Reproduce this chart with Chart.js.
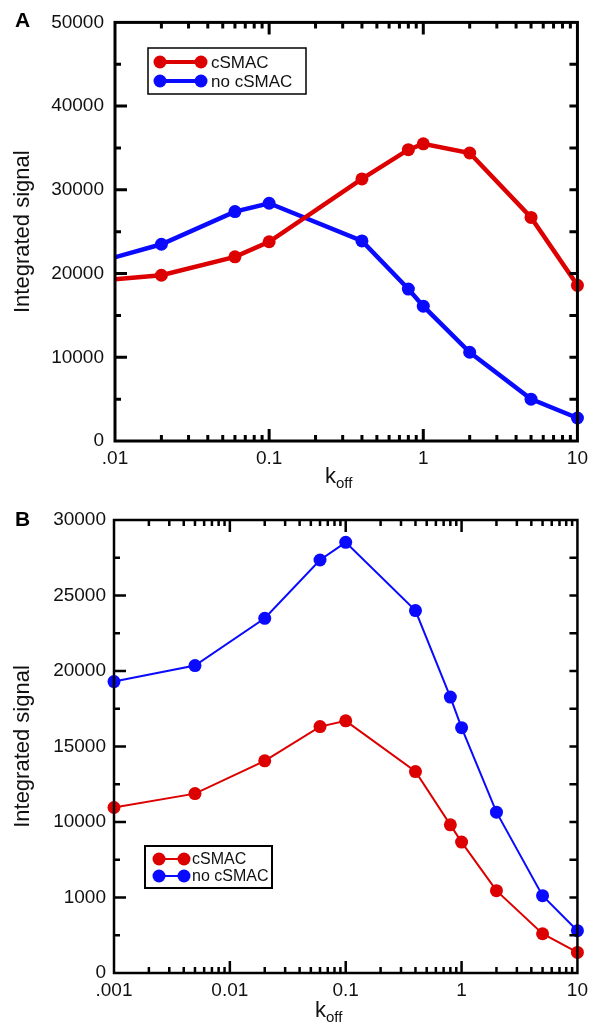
<!DOCTYPE html>
<html>
<head>
<meta charset="utf-8">
<script src="https://cdn.jsdelivr.net/npm/chart.js@4.4.1/dist/chart.umd.min.js"></script>
<style>
  body { margin: 0; background: #fff; }
  canvas { display: block; }
</style>
</head>
<body>
<canvas id="chartA" width="594" height="497"></canvas>
<canvas id="chartB" width="594" height="529"></canvas>
<script>
// panel A data
const kA = [0.005, 0.02, 0.06, 0.1, 0.4, 0.8, 1, 2, 5, 10];
const aCsmac = [18850, 19800, 22000, 23800, 31300, 34800, 35500, 34400, 26700, 18600];
const aNoCsmac = [20400, 23500, 27400, 28400, 23900, 18150, 16100, 10600, 5000, 2750];
const aXTickValues = [0.01, 0.1, 1, 10];
const aXTickLabels = ['.01', '0.1', '1', '10'];
const aYTickValues = [0, 10000, 20000, 30000, 40000, 50000];
const aYTickLabels = ['0', '10000', '20000', '30000', '40000', '50000'];

// panel B data
const kB = [0.001, 0.005, 0.02, 0.06, 0.1, 0.4, 0.8, 1, 2, 5, 10];
const bCsmac = [10960, 11880, 14050, 16320, 16700, 13340, 9810, 8670, 5450, 2600, 1360];
const bNoCsmac = [19300, 20360, 23490, 27350, 28520, 24000, 18270, 16250, 10650, 5120, 2800];
const bXTickValues = [0.001, 0.01, 0.1, 1, 10];
const bXTickLabels = ['.001', '0.01', '0.1', '1', '10'];
const bYTickValues = [0, 5000, 10000, 15000, 20000, 25000, 30000];
const bYTickLabels = ['0', '1000', '10000', '15000', '20000', '25000', '30000'];

const seriesNames = ['cSMAC', 'no cSMAC'];
const RED = '#dd0000';
const BLUE = '#0a0aff';
const FONT = '"Liberation Sans", Arial, Helvetica, sans-serif';
const TEXT = '#111';

function pts(xs, ys) {
    return xs.map((x, i) => ({ x: x, y: ys[i] }));
}

function logTicks(min, max) {
    const out = [];
    for (let d = Math.floor(Math.log10(min)); d <= Math.ceil(Math.log10(max)); d++) {
        for (let m = 1; m <= 9; m++) {
            const v = parseFloat((m * Math.pow(10, d)).toPrecision(6));
            if (v >= min * 0.999999 && v <= max * 1.000001) out.push({ value: v });
        }
    }
    return out;
}

function isDecade(v) {
    const l = Math.log10(v);
    return Math.abs(l - Math.round(l)) < 1e-6;
}

function labelFor(v, vals, labels) {
    for (let i = 0; i < vals.length; i++) {
        if (Math.abs(v - vals[i]) <= Math.abs(vals[i]) * 1e-6) return labels[i];
    }
    return '';
}

// inward tick marks on all four sides, plus the box
const framePlugin = {
    id: 'frame',
    afterDraw(chart, args, o) {
        const { ctx, chartArea: a, scales: { x, y } } = chart;
        ctx.save();
        ctx.strokeStyle = '#000';
        ctx.lineWidth = o.width;
        ctx.beginPath();
        x.ticks.forEach(t => {
            const px = x.getPixelForValue(t.value);
            if (px < a.left + 1 || px > a.right - 1) return;
            const len = isDecade(t.value) ? o.major : o.minor;
            ctx.moveTo(px, a.bottom); ctx.lineTo(px, a.bottom - len);
            ctx.moveTo(px, a.top); ctx.lineTo(px, a.top + len);
        });
        y.ticks.forEach(t => {
            const py = y.getPixelForValue(t.value);
            if (py < a.top + 1 || py > a.bottom - 1) return;
            const len = t.value % o.yMajor === 0 ? o.major : o.minor;
            ctx.moveTo(a.left, py); ctx.lineTo(a.left + len, py);
            ctx.moveTo(a.right, py); ctx.lineTo(a.right - o.minor - 2, py);
        });
        ctx.stroke();
        ctx.strokeRect(a.left, a.top, a.right - a.left, a.bottom - a.top);

        // panel letter
        ctx.fillStyle = '#000';
        ctx.font = 'bold 21px ' + FONT;
        ctx.textBaseline = 'alphabetic';
        ctx.fillText(o.letter, 15, o.letterY);

        // x title k_off
        ctx.fillStyle = TEXT;
        ctx.font = '22px ' + FONT;
        ctx.fillText('k', o.kX, o.kY);
        const kw = ctx.measureText('k').width;
        ctx.font = '15px ' + FONT;
        ctx.fillText('off', o.kX + kw, o.kY + 5);
        ctx.restore();
    }
};

// boxed legend with a line and two dots per entry
const boxLegend = {
    id: 'boxLegend',
    afterDraw(chart, args, o) {
        const ctx = chart.ctx;
        ctx.save();
        ctx.fillStyle = '#fff';
        ctx.fillRect(o.x, o.y, o.w, o.h);
        ctx.strokeStyle = '#000';
        ctx.lineWidth = o.boxWidth;
        ctx.strokeRect(o.x, o.y, o.w, o.h);
        chart.data.datasets.forEach((ds, i) => {
            const cy = o.y + o.row0 + i * o.rowGap;
            const x1 = o.x + o.m1, x2 = o.x + o.m2;
            ctx.strokeStyle = ds.borderColor;
            ctx.lineWidth = o.lineWidth;
            ctx.beginPath(); ctx.moveTo(x1, cy); ctx.lineTo(x2, cy); ctx.stroke();
            ctx.fillStyle = ds.borderColor;
            [x1, x2].forEach(cx => {
                ctx.beginPath(); ctx.arc(cx, cy, o.r, 0, Math.PI * 2); ctx.fill();
            });
            ctx.fillStyle = TEXT;
            ctx.font = o.fontSize + 'px ' + FONT;
            ctx.textBaseline = 'middle';
            ctx.fillText(ds.label, o.x + o.textX, cy + 1);
        });
        ctx.restore();
    }
};

function makeChart(id, cfg) {
    const ds = (label, xs, ys, color) => ({
        label: label,
        data: pts(xs, ys),
        showLine: true,
        borderColor: color,
        backgroundColor: color,
        pointBackgroundColor: color,
        pointBorderColor: color,
        borderWidth: cfg.lineWidth,
        pointRadius: cfg.pointRadius,
        pointHoverRadius: cfg.pointRadius,
        pointBorderWidth: 0,
        tension: 0,
        clip: cfg.clip
    });
    return new Chart(document.getElementById(id), {
        type: 'scatter',
        data: {
            datasets: [
                ds(seriesNames[0], cfg.xs, cfg.red, RED),
                ds(seriesNames[1], cfg.xs, cfg.blue, BLUE)
            ]
        },
        options: {
            responsive: false,
            animation: false,
            devicePixelRatio: 1,
            layout: { padding: { top: cfg.top, right: 16, left: 0, bottom: 0 } },
            plugins: {
                legend: { display: false },
                tooltip: { enabled: false },
                frame: cfg.frame,
                boxLegend: cfg.legend
            },
            scales: {
                x: {
                    type: 'logarithmic',
                    min: cfg.xMin,
                    max: 10,
                    grid: { display: false, drawTicks: false },
                    border: { display: false },
                    afterBuildTicks: s => { s.ticks = logTicks(cfg.xMin, 10); },
                    ticks: {
                        autoSkip: false,
                        maxRotation: 0,
                        padding: 6,
                        color: TEXT,
                        font: { family: FONT, size: 19 },
                        callback: v => labelFor(v, cfg.xTickValues, cfg.xTickLabels)
                    },
                    afterFit: s => { s.height = cfg.xHeight; }
                },
                y: {
                    min: 0,
                    max: cfg.yMax,
                    grid: { display: false, drawTicks: false },
                    border: { display: false },
                    ticks: {
                        stepSize: cfg.yStep,
                        autoSkip: false,
                        padding: cfg.yPad,
                        color: TEXT,
                        font: { family: FONT, size: 19 },
                        callback: v => labelFor(v, cfg.yTickValues, cfg.yTickLabels)
                    },
                    title: {
                        display: true,
                        text: 'Integrated signal',
                        color: TEXT,
                        font: { family: FONT, size: 22 },
                        padding: { top: 10, bottom: 0 }
                    },
                    afterFit: s => { s.width = cfg.yWidth; }
                }
            }
        },
        plugins: [framePlugin, boxLegend]
    });
}

makeChart('chartA', {
    xs: kA, red: aCsmac, blue: aNoCsmac,
    xMin: 0.01, xTickValues: aXTickValues, xTickLabels: aXTickLabels,
    yMax: 50000, yStep: 5000, yTickValues: aYTickValues, yTickLabels: aYTickLabels,
    top: 16, xHeight: 56, yWidth: 115, yPad: 11,
    lineWidth: 4.5, pointRadius: 6.5,
    clip: { left: 0, top: 0, right: 10, bottom: 10 },
    frame: { width: 3, major: 12, minor: 6, yMajor: 10000, letter: 'A', letterY: 27, kX: 325, kY: 483 },
    legend: { x: 148, y: 48, w: 158, h: 46, boxWidth: 1.5, row0: 14, rowGap: 19,
              m1: 12, m2: 53, r: 6.5, lineWidth: 4, textX: 63, fontSize: 17 }
});

makeChart('chartB', {
    xs: kB, red: bCsmac, blue: bNoCsmac,
    xMin: 0.001, xTickValues: bXTickValues, xTickLabels: bXTickLabels,
    yMax: 30000, yStep: 2500, yTickValues: bYTickValues, yTickLabels: bYTickLabels,
    top: 23, xHeight: 53, yWidth: 114, yPad: 8,
    lineWidth: 2, pointRadius: 6.5,
    clip: 10,
    frame: { width: 2.5, major: 12, minor: 6, yMajor: 5000, letter: 'B', letterY: 29, kX: 315, kY: 520 },
    legend: { x: 145, y: 349, w: 127, h: 42, boxWidth: 2, row0: 13, rowGap: 17,
              m1: 14, m2: 39, r: 6.5, lineWidth: 2, textX: 47, fontSize: 16 }
});
</script>
</body>
</html>
